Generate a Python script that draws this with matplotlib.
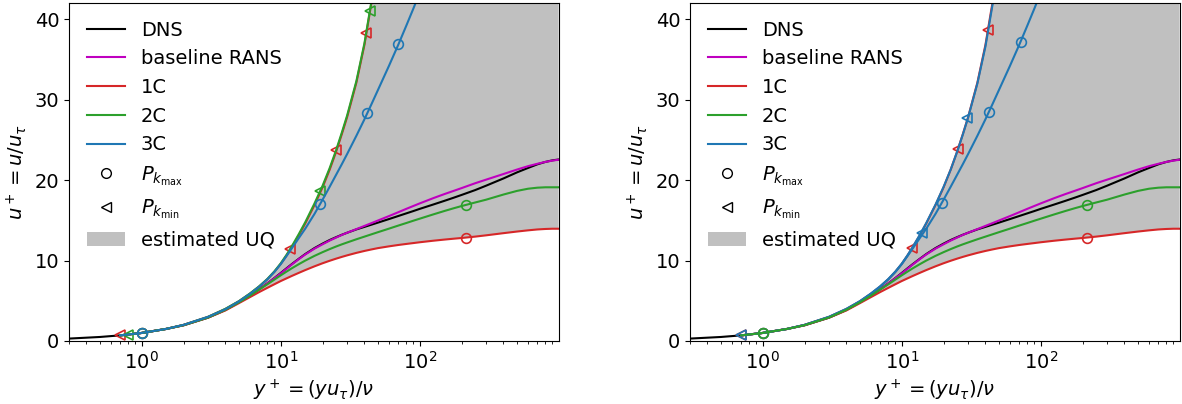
import numpy as np
import matplotlib
matplotlib.use('Agg')
from matplotlib import pyplot as plt

nan = np.nan

# y+ grid (shared by all curves)
yp = [0.3, 0.5, 0.7, 1, 1.5, 2, 3, 4, 5, 6, 7, 8, 9, 10, 11, 12, 13.5, 15, 17.5, 20,
      22.5, 25, 27.5, 30, 35, 40, 45, 50, 60, 70, 80, 90, 100, 125, 150, 175, 200,
      250, 300, 400, 500, 600, 700, 800, 900, 995]

dns = [0.3, 0.5, 0.7, 1.0, 1.5, 1.95, 2.9, 3.85, 4.8, 5.65, 6.43, 7.15, 7.82, 8.45,
       9.03, 9.55, 10.22, 10.8, 11.55, 12.1, 12.55, 12.9, 13.2, 13.45, 13.87, 14.18,
       14.46, 14.71, 15.15, 15.53, 15.86, 16.15, 16.42, 16.96, 17.41, 17.8, 18.15,
       18.75, 19.3, 20.2, 20.95, 21.5, 21.95, 22.25, 22.45, 22.55]
rans = [nan, nan, 0.7, 1.0, 1.5, 2.0, 2.95, 3.9, 4.8, 5.65, 6.43, 7.15, 7.8, 8.4,
        8.97, 9.5, 10.18, 10.75, 11.48, 12.02, 12.48, 12.85, 13.18, 13.45, 13.9, 14.3,
        14.65, 14.97, 15.52, 16.0, 16.42, 16.78, 17.1, 17.75, 18.25, 18.65, 19.0,
        19.6, 20.05, 20.75, 21.3, 21.72, 22.02, 22.25, 22.42, 22.52]

# Pk max perturbations
c1_max = [nan, nan, 0.7, 1.0, 1.5, 1.95, 2.9, 3.8, 4.7, 5.45, 6.08, 6.6, 7.05, 7.45,
          7.78, 8.08, 8.47, 8.81, 9.28, 9.66, 9.97, 10.23, 10.45, 10.64, 10.95, 11.19,
          11.38, 11.54, 11.76, 11.93, 12.06, 12.17, 12.27, 12.46, 12.6, 12.71, 12.8,
          12.97, 13.13, 13.4, 13.6, 13.75, 13.86, 13.92, 13.95, 13.95]
c2_max = [nan, nan, 0.7, 1.0, 1.5, 1.97, 2.92, 3.88, 4.8, 5.63, 6.4, 7.04, 7.63, 8.16,
          8.62, 9.03, 9.55, 9.99, 10.58, 11.04, 11.42, 11.74, 12.01, 12.24, 12.64, 12.97,
          13.26, 13.52, 13.96, 14.34, 14.66, 14.95, 15.2, 15.73, 16.15, 16.49, 16.77,
          17.21, 17.56, 18.2, 18.65, 18.92, 19.05, 19.1, 19.1, 19.1]
c3_max = [nan, nan, 0.7, 1.0, 1.5, 2.0, 3.0, 3.95, 4.92, 5.85, 6.75, 7.65, 8.58, 9.55,
          10.55, 11.5, 12.8, 13.95, 15.8, 17.56, 19.17, 20.64, 21.97, 23.22, 25.5, 27.55,
          29.45, 31.18, 34.18, 36.8, 39.18, 41.32, 43.3]

# Pk min perturbations (steep branch, leaves the plot near y+ = 45)
c1_min = [nan, nan, 0.7, 1.0, 1.5, 2.0, 3.0, 3.98, 4.93, 5.87, 6.77, 7.66, 8.6, 9.58,
          10.62, 11.65, 13.15, 14.6, 16.9, 19.1, 21.3, 23.5, 25.7, 27.8, 32.1, 36.8,
          42.1, 47.8]
c2_min = [nan, nan, 0.7, 1.0, 1.5, 2.0, 3.0, 4.0, 4.95, 5.9, 6.8, 7.7, 8.65, 9.65,
          10.7, 11.75, 13.3, 14.75, 17.1, 19.3, 21.5, 23.7, 25.9, 28.0, 32.3, 37.0,
          42.3, 48.0]
c3_min = [nan, nan, 0.7, 1.0, 1.5, 2.0, 3.0, 4.0, 4.95, 5.9, 6.8, 7.7, 8.63, 9.6,
          10.65, 11.7, 13.2, 14.65, 16.95, 19.15, 21.3, 23.5, 25.65, 27.75, 32.0, 36.6,
          41.8, 47.5]

# marker positions (y+, u+)
c1_max_mk = ([1.0, 214], [1.0, 12.84])
c2_max_mk = ([1.0, 214], [1.0, 16.9])
c3_max_mk_l = ([1.0, 19.2, 41.6, 69.8], [1.0, 17.0, 28.3, 36.9])
c3_max_mk_r = ([1.0, 19.6, 42.5, 71.8], [1.0, 17.2, 28.4, 37.1])
c1_min_mk_l = ([0.7, 11.7, 25.1, 41.3], [0.7, 11.4, 23.7, 38.3])
c1_min_mk_r = ([0.7, 11.9, 25.4, 41.8], [0.7, 11.5, 23.9, 38.6])
c2_min_mk = ([0.8, 19.2, 43.7], [0.8, 18.6, 41.0])
c3_min_mk = ([0.7, 13.9, 29.7], [0.7, 13.4, 27.7])

plt.rcParams['font.size'] = 14

fig = plt.figure(figsize=(11.82, 4.04), dpi=100)
ax1 = fig.add_axes([69 / 1182, 63 / 404, 489.5 / 1182, 338 / 404])
ax2 = fig.add_axes([690 / 1182, 63 / 404, 489.5 / 1182, 338 / 404])

yp_a = np.array(yp)


def top_of(c):
    # upper UQ bound: steep branch, then above the plot once it has left it
    out = np.full(len(yp), 100.0)
    out[:len(c)] = c
    return out


def curve(ax, c, col, mk, m):
    ax.plot(yp[:len(c)], c, color=col, lw=1.5)
    ax.plot(mk[0], mk[1], ls='none', marker=m, ms=7, mfc='none', mec=col, mew=1.2)


for ax, panel in [(ax1, 'left'), (ax2, 'right')]:
    if panel == 'left':
        upper = top_of(c2_min)
    else:
        upper = top_of(c3_min)
    ax.fill_between(yp_a, np.array(c1_max), upper, color='silver', lw=0,
                    label='estimated UQ')
    ax.plot(yp, dns, color='k', lw=1.5, label='DNS')
    ax.plot(yp, rans, color='m', lw=1.5, label='baseline RANS')
    curve(ax, c1_max, 'tab:red', c1_max_mk, 'o')
    if panel == 'left':
        curve(ax, c1_min, 'tab:red', c1_min_mk_l, '<')
        curve(ax, c2_max, 'tab:green', c2_max_mk, 'o')
        curve(ax, c2_min, 'tab:green', c2_min_mk, '<')
        curve(ax, c3_max, 'tab:blue', c3_max_mk_l, 'o')
    else:
        curve(ax, c1_min, 'tab:red', c1_min_mk_r, '<')
        curve(ax, c3_max, 'tab:blue', c3_max_mk_r, 'o')
        curve(ax, c3_min, 'tab:blue', c3_min_mk, '<')
        curve(ax, c2_max, 'tab:green', c2_max_mk, 'o')

    # legend-only entries
    ax.plot([], [], color='tab:red', lw=1.5, label='1C')
    ax.plot([], [], color='tab:green', lw=1.5, label='2C')
    ax.plot([], [], color='tab:blue', lw=1.5, label='3C')
    ax.plot([], [], ls='none', marker='o', ms=7, mfc='none', mec='k',
            label=r'$P_{k_{\mathrm{max}}}$')
    ax.plot([], [], ls='none', marker='<', ms=7, mfc='none', mec='k',
            label=r'$P_{k_{\mathrm{min}}}$')

    h, l = ax.get_legend_handles_labels()
    order = ['DNS', 'baseline RANS', '1C', '2C', '3C', r'$P_{k_{\mathrm{max}}}$',
             r'$P_{k_{\mathrm{min}}}$', 'estimated UQ']
    hd = dict(zip(l, h))
    ax.legend([hd[k] for k in order], order, loc='upper left', frameon=False,
              fontsize=14, numpoints=1)

    ax.set_xscale('log')
    ax.set_xlim(0.3, 995)
    ax.set_ylim(0, 42)
    ax.set_yticks([0, 10, 20, 30, 40])
    ax.set_xlabel(r'$y^+ = (yu_\tau)/\nu$')
    ax.set_ylabel(r'$u^+ = u/u_\tau$')

fig.savefig('out.png', dpi=100)
